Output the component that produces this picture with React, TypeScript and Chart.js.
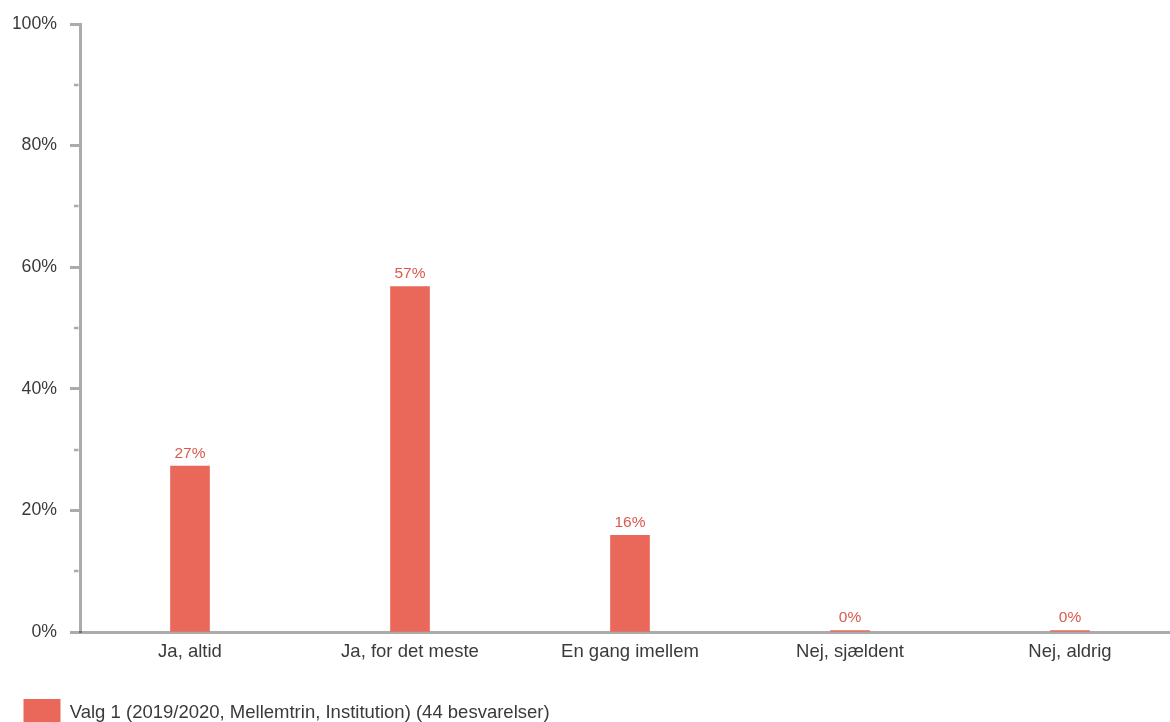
import React, { useEffect, useRef } from "react";
import { Chart, registerables } from "chart.js";

Chart.register(...registerables);

const categories = ["Ja, altid", "Ja, for det meste", "En gang imellem", "Nej, sjældent", "Nej, aldrig"];
const values = [27.3, 56.8, 15.9, 0, 0];
const valueLabels = ["27%", "57%", "16%", "0%", "0%"];
const seriesName = "Valg 1 (2019/2020, Mellemtrin, Institution) (44 besvarelser)";
const yTickValues = [0, 20, 40, 60, 80, 100];

const FONT = "'Liberation Sans', Arial, sans-serif";
const AXIS = "rgba(0,0,0,0.33)";
const BAR = "#E9685A";
const LABEL = "#D95A4E";
const TEXT = "#3a3a3a";

const minorTicks = {
  id: "minorTicks",
  afterDraw(chart: any) {
    const y = chart.scales.y;
    const ctx = chart.ctx;
    ctx.save();
    ctx.strokeStyle = AXIS;
    ctx.lineWidth = 2.5;
    for (let v = 10; v < 100; v += 20) {
      const py = Math.round(y.getPixelForValue(v));
      ctx.beginPath();
      ctx.moveTo(chart.chartArea.left - 6, py);
      ctx.lineTo(chart.chartArea.left - 1.5, py);
      ctx.stroke();
    }
    ctx.restore();
  },
};

const valueLabelsPlugin = {
  id: "valueLabels",
  afterDatasetsDraw(chart: any) {
    const ctx = chart.ctx;
    const meta = chart.getDatasetMeta(0);
    ctx.save();
    ctx.fillStyle = LABEL;
    ctx.font = `15.5px ${FONT}`;
    ctx.textAlign = "center";
    ctx.textBaseline = "bottom";
    meta.data.forEach((el: any, i: number) => {
      ctx.fillText(valueLabels[i], el.x, el.y - 5);
    });
    ctx.restore();
  },
};

export default function App() {
  const ref = useRef<HTMLCanvasElement>(null);
  useEffect(() => {
    document.body.style.margin = "0";
    document.body.style.overflow = "hidden";
    document.documentElement.style.overflow = "hidden";
    const chart = new Chart(ref.current!, {
      type: "bar",
      data: {
        labels: categories,
        datasets: [
          {
            label: seriesName,
            data: values,
            backgroundColor: BAR,
            borderWidth: 0,
            barThickness: 39,
            minBarLength: 1.5,
          },
        ],
      },
      options: {
        animation: false,
        responsive: false,
        layout: { padding: { left: 13.5, top: 24, right: 0, bottom: 0 } },
        plugins: {
          tooltip: { enabled: false },
          legend: {
            position: "bottom",
            align: "start",
            labels: {
              boxWidth: 37,
              boxHeight: 28,
              padding: 10,
              color: TEXT,
              font: { family: FONT, size: 18.5 },
            },
          },
        },
        scales: {
          x: {
            offset: true,
            z: 1,
            grid: { display: false, drawTicks: false },
            border: { display: true, color: AXIS, width: 3 },
            ticks: { color: TEXT, font: { family: FONT, size: 18.5 }, padding: 9, maxRotation: 0 },
            afterFit: (scale: any) => {
              scale.height = 57;
            },
          },
          y: {
            min: 0,
            max: 100,
            z: 1,
            afterBuildTicks: (scale: any) => {
              scale.ticks = yTickValues.map((v) => ({ value: v }));
            },
            afterFit: (scale: any) => {
              scale.width = 66.5;
            },
            ticks: {
              autoSkip: false,
              color: TEXT,
              font: { family: FONT, size: 17.7 },
              padding: 13,
              callback: (v: any) => `${v}%`,
            },
            grid: {
              drawOnChartArea: false,
              drawTicks: true,
              tickLength: 10,
              tickWidth: 3,
              tickColor: AXIS,
            },
            border: { display: true, color: AXIS, width: 3 },
          },
        },
      },
      plugins: [minorTicks, valueLabelsPlugin],
    });
    return () => chart.destroy();
  }, []);
  return (
    <div style={{ position: "absolute", left: 0, top: 0, width: 1180, height: 737 }}>
      <canvas ref={ref} width={1180} height={737} />
    </div>
  );
}
